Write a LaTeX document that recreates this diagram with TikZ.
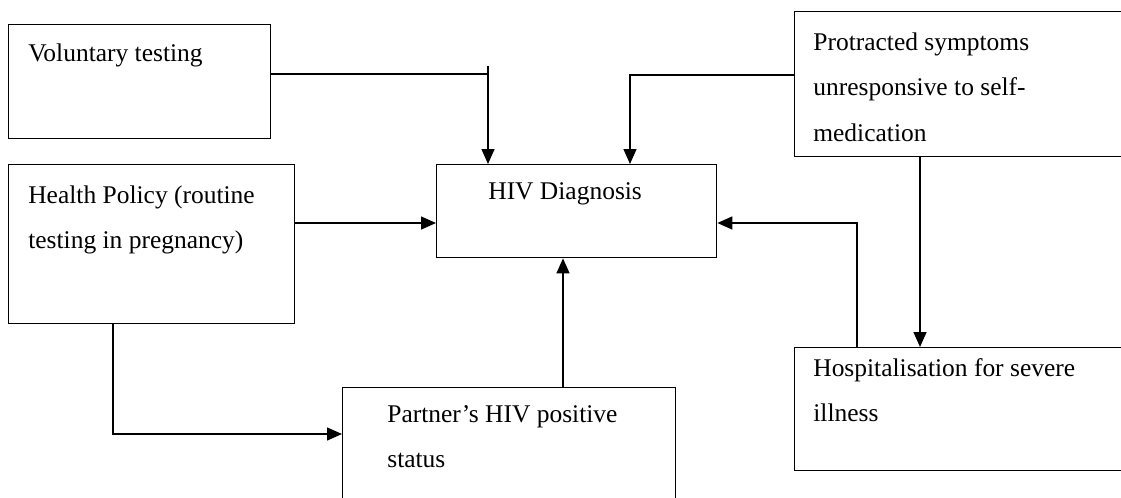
\documentclass[tikz,border=0pt]{standalone}
\usepackage{fontspec}
\setmainfont{Liberation Serif}
\usetikzlibrary{arrows.meta}

\begin{document}
\begin{tikzpicture}[x=0.02cm, y=-0.02cm,
        >={Triangle[length=0.3cm, width=0.26cm]},
        box/.style={draw, line width=0.8pt, rectangle, anchor=north west, inner sep=0pt},
        txt/.style={anchor=north west, align=left, inner sep=0pt,
            font=\fontsize{14.5pt}{26pt}\selectfont},
        link/.style={line width=0.8pt}]
        \clip (0,0) rectangle (1121,497);

        % Voluntary testing
        \node[box, minimum width=5.24cm, minimum height=2.28cm] (vol) at (8,24) {};
        \node[txt] (voltxt) at (28,43) {Voluntary testing};

        % Health policy
        \node[box, minimum width=5.72cm, minimum height=3.18cm] (pol) at (8,164) {};
        \node[txt] (poltxt) at (28,185) {Health Policy (routine\\testing in pregnancy)};

        % HIV diagnosis
        \node[box, minimum width=5.6cm, minimum height=1.86cm] (hiv) at (436,164) {};
        \node[txt] (hivtxt) at (488,182) {HIV Diagnosis};

        % Protracted symptoms
        \node[box, minimum width=6.8cm, minimum height=2.9cm] (pro) at (794,11) {};
        \node[txt] (protxt) at (813,32) {Protracted symptoms\\unresponsive to self-\\medication};

        % Hospitalisation
        \node[box, minimum width=6.8cm, minimum height=2.46cm] (hos) at (794,347) {};
        \node[txt] (hostxt) at (813,358) {Hospitalisation for severe\\illness};

        % Partner
        \node[box, minimum width=6.66cm, minimum height=2.46cm] (par) at (342,387) {};
        \node[txt] (partxt) at (387,405) {Partner’s HIV positive\\status};

        % bends
        \coordinate (volbend) at (488,74);
        \coordinate (volstub) at (488,66);
        \coordinate (midrow) at (0,223);
        \coordinate (probend) at (630,75);
        \coordinate (prodown) at (920,0);
        \coordinate (hosup) at (857,223);
        \coordinate (parup) at (563,0);
        \coordinate (polbend) at (113,434);

        % Connectors
        \draw[link] (volbend -| vol.east) -- (volbend);
        \draw[link, ->] (volstub) -- (hiv.north -| volstub);
        \draw[link, ->] (pol.east |- midrow) -- (hiv.west |- midrow);
        \draw[link, ->] (pro.west |- probend) -- (probend) -- (hiv.north -| probend);
        \draw[link, ->] (pro.south -| prodown) -- (hos.north -| prodown);
        \draw[link, ->] (hos.north -| hosup) -- (hosup) -- (hiv.east |- hosup);
        \draw[link, ->] (par.north -| parup) -- (hiv.south -| parup);
        \draw[link, ->] (pol.south -| polbend) -- (polbend) -- (par.west |- polbend);
    \end{tikzpicture}
\end{document}
